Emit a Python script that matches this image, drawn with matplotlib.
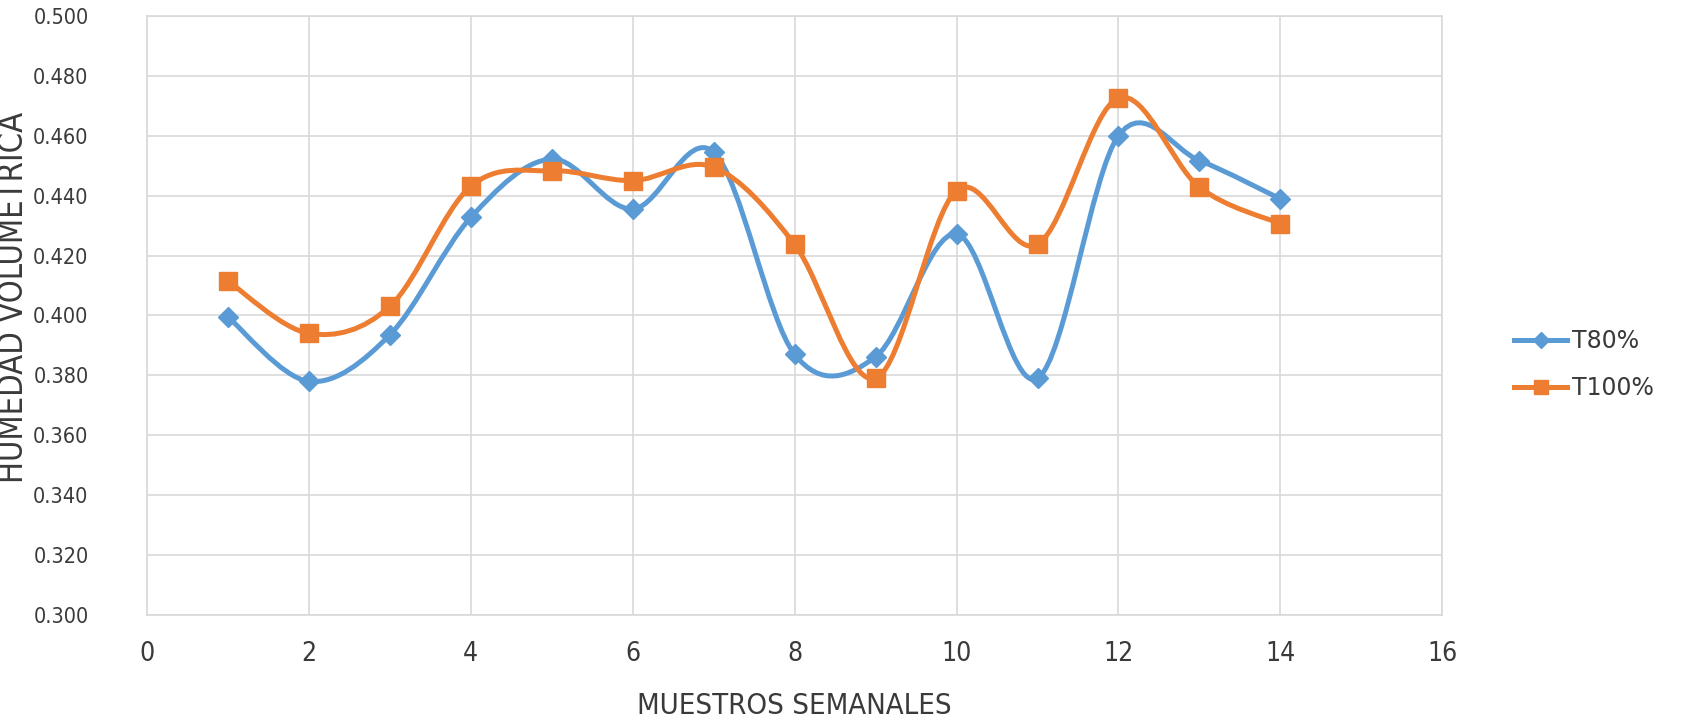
import numpy as np
import matplotlib
matplotlib.use("Agg")
import matplotlib.pyplot as plt
from matplotlib.path import Path
from matplotlib.patches import PathPatch
from matplotlib.lines import Line2D

# ---- Data ----
semanas = [1, 2, 3, 4, 5, 6, 7, 8, 9, 10, 11, 12, 13, 14]
t80 = [0.3995, 0.378, 0.3935, 0.4327, 0.4522, 0.4355, 0.4545, 0.387, 0.3862,
       0.4272, 0.379, 0.460, 0.4517, 0.4389]
t100 = [0.4115, 0.394, 0.403, 0.4431, 0.4483, 0.445, 0.4495, 0.4237, 0.3790,
        0.4417, 0.4237, 0.4726, 0.4428, 0.4306]

BLUE = "#5B9BD5"
ORANGE = "#ED7D31"
GRID = "#D9D9D9"
TXT = "#3A3A3A"


def smooth_path(x, y):
    # Excel-style smoothed line: cubic bezier segments through each point
    pts = np.column_stack([np.asarray(x, float), np.asarray(y, float)])
    n = len(pts)
    verts = [pts[0]]
    codes = [Path.MOVETO]
    for i in range(n - 1):
        p0 = pts[i - 1] if i > 0 else pts[i]
        p1 = pts[i]
        p2 = pts[i + 1]
        p3 = pts[i + 2] if i + 2 < n else pts[i + 1]
        verts += [p1 + (p2 - p0) / 6.0, p2 - (p3 - p1) / 6.0, p2]
        codes += [Path.CURVE4] * 3
    return Path(verts, codes)


fig = plt.figure(figsize=(16.83, 7.21), dpi=100)
ax = fig.add_axes([0.0873, 0.147, 0.7697, 0.831])

for ys, color, marker, ms in [(t80, BLUE, "D", 10.5), (t100, ORANGE, "s", 12.5)]:
    ax.add_patch(PathPatch(smooth_path(semanas, ys), facecolor="none",
                           edgecolor=color, lw=3.6, zorder=3, capstyle="round"))
    ax.plot(semanas, ys, linestyle="none", marker=marker, markersize=ms,
            color=color, zorder=4)

yt = np.arange(0.300, 0.5001, 0.020)
ax.set_xlim(0, 16)
ax.set_ylim(0.300, 0.500)
ax.set_xticks(np.arange(0, 17, 2))
ax.set_yticks(yt)
ax.set_yticklabels([f"{v:.3f}" for v in yt])
ax.grid(True, color=GRID, lw=1.2)
ax.set_axisbelow(True)
for s in ax.spines.values():
    s.set_color(GRID)
    s.set_linewidth(1.2)
ax.tick_params(length=0, colors=TXT)
ax.tick_params(axis="y", labelsize=15.5, pad=42)
ax.tick_params(axis="x", labelsize=19, pad=19)
for t in ax.get_yticklabels():
    t.set_fontstretch("condensed")
for t in ax.get_xticklabels():
    t.set_fontstretch("condensed")

ax.set_xlabel("MUESTROS SEMANALES", fontsize=21, color=TXT, labelpad=18,
              fontstretch="condensed")
ax.set_ylabel("HUMEDAD VOLUMETRICA", fontsize=23.5, color=TXT,
              fontstretch="condensed")
ax.yaxis.set_label_coords(-0.0905, 0.53)

handles = [Line2D([], [], color=BLUE, lw=3.6, marker="D", markersize=8),
           Line2D([], [], color=ORANGE, lw=3.6, marker="s", markersize=10)]
ax.legend(handles, ["T80%", "T100%"], loc="center left", bbox_to_anchor=(1.039, 0.418),
          frameon=False, fontsize=17, handlelength=2.25, handletextpad=0.2,
          labelspacing=0.95, labelcolor=TXT)

plt.savefig("out.png", dpi=100)
